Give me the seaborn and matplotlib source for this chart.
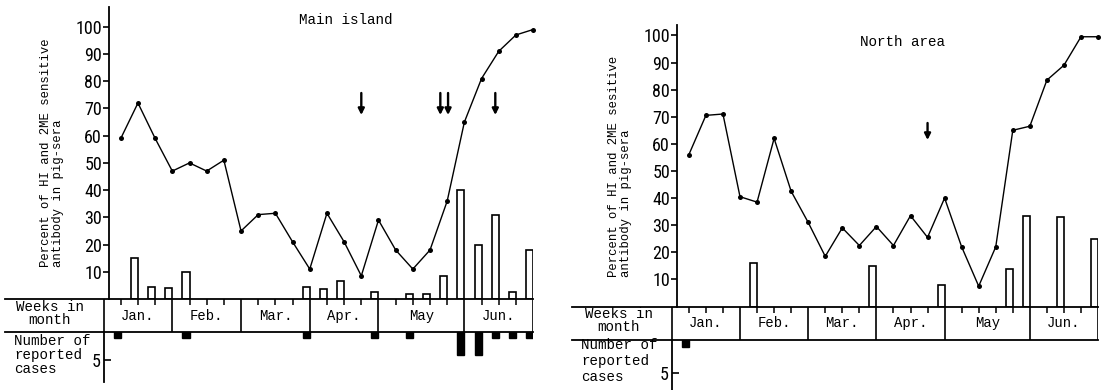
import numpy as np
import matplotlib
matplotlib.use('Agg')
import matplotlib.pyplot as plt
from matplotlib import font_manager
import seaborn as sns

sns.set_theme(style='white')
plt.rcParams['font.family'] = ['Liberation Mono', 'DejaVu Sans']

W, H = 1108, 390

# ---- data ----
month_names = ['Jan.', 'Feb.', 'Mar.', 'Apr.', 'May', 'Jun.']
weeks_per_month = [4, 4, 4, 4, 5, 4]
weeks = list(range(1, 26))
pct_ticks = [10, 20, 30, 40, 50, 60, 70, 80, 90, 100]
case_ticks = [5]

main_pct = [59, 72, 59, 47, 50, 47, 51, 25, 31, 31.5, 21, 11, 31.5, 21, 8.5,
            29, 18, 11, 18, 36, 65, 81, 91, 97, 99]
main_bar_weeks = [2, 3, 4, 5, 12, 13, 14, 16, 18, 19, 20, 21, 22, 23, 24, 25]
main_bar_vals = [15, 4.5, 4, 10, 4.5, 3.5, 6.5, 2.5, 2, 2, 8.5, 40, 20, 31, 2.5, 18]
main_case_weeks = [1, 5, 12, 16, 18, 21, 22, 23, 24, 25]
main_cases = [1, 1, 1, 1, 1, 4, 4, 1, 1, 1]
main_arrows = [15, 19.6, 20.05, 22.8]

north_pct = [56, 70.5, 71, 40.5, 38.5, 62, 42.5, 31, 18.5, 29, 22.5, 29.5, 22.5,
             33.5, 25.5, 40, 22, 7.5, 22, 65, 66.5, 83.5, 89, 99.5, 99.5]
north_bar_weeks = [5, 12, 16, 20, 21, 23, 25]
north_bar_vals = [16, 15, 8, 14, 33.5, 33, 25]
north_case_weeks = [1]
north_cases = [1]
north_arrows = [15]

# narrow digits for the axis numbers, if some condensed face is installed
names = {f.name for f in font_manager.fontManager.ttflist}
tick_font, tick_size, tick_stretch = 'DejaVu Sans', 11.5, 'condensed'
for cand, size in [('Roboto Condensed', 13), ('Liberation Sans Narrow', 13.5),
                   ('Noto Sans Condensed', 13), ('Open Sans Condensed', 13)]:
    if cand in names:
        tick_font, tick_size, tick_stretch = cand, size, 'normal'
        break


def rect(x0, y0, x1, y1):
    # pixel box (y from top) -> figure fraction
    return [x0 / W, 1 - y1 / H, (x1 - x0) / W, (y1 - y0) / H]


def fig_xy(x, y):
    return x / W, 1 - y / H


def style_ticklabels(ax):
    for lab in ax.get_yticklabels():
        lab.set_fontfamily(tick_font)
        lab.set_fontsize(tick_size)
        lab.set_fontstretch(tick_stretch)


def draw_panel(fig, g, title, ylabel, pct, bar_weeks, bar_vals,
               case_weeks, cases, arrows):
    x_end = g['x0'] + 25 * g['wk']

    # upper part: percent of sera
    ax = fig.add_axes(rect(g['spine'], g['top'], x_end, g['zero']))
    ax.set_facecolor('none')
    sns.lineplot(x=weeks, y=pct, ax=ax, color='black', linewidth=1.0,
                 marker='o', markersize=3.6, markeredgecolor='black',
                 markeredgewidth=0, clip_on=False)
    ax.bar(bar_weeks, bar_vals, width=-0.41, align='edge', facecolor='white',
           edgecolor='black', linewidth=1.2, zorder=1)
    ax.set_xlim((g['spine'] - g['x0']) / g['wk'], 25)
    ax.set_ylim(0, (g['zero'] - g['top']) / g['unit'])
    ax.set_xticks([])
    ax.set_yticks(pct_ticks)
    ax.tick_params(axis='y', direction='out', length=4, width=1.2, pad=1,
                   left=True, colors='black')
    style_ticklabels(ax)
    for s in ['top', 'right', 'bottom']:
        ax.spines[s].set_visible(False)
    ax.spines['left'].set_linewidth(1.3)
    ax.spines['left'].set_color('black')
    ax.set_xlabel('')
    ax.set_ylabel('')
    a0 = (g['zero'] - g['arrow'][0]) / g['unit']
    a1 = (g['zero'] - g['arrow'][1]) / g['unit']
    for w in arrows:
        ax.annotate('', xy=(w, a1), xytext=(w, a0),
                    arrowprops=dict(arrowstyle='-|>', color='black', lw=1.7,
                                    mutation_scale=9, shrinkA=0, shrinkB=0))

    # month band
    bx = fig.add_axes(rect(g['line0'], g['zero'], x_end, g['bottom']))
    bx.set_facecolor('none')
    bx.set_xlim(-(g['x0'] - g['line0']) / g['wk'], 25)
    bx.set_ylim(0, 1)
    bx.set_xticks([])
    bx.set_yticks([])
    for s in ['left', 'right']:
        bx.spines[s].set_visible(False)
    for s in ['top', 'bottom']:
        bx.spines[s].set_linewidth(1.3)
        bx.spines[s].set_color('black')
    bounds = np.concatenate([[0], np.cumsum(weeks_per_month)])
    bx.vlines(bounds, 0, 1, color='black', lw=1.2)
    inner = [w for w in range(1, 25) if w not in bounds]
    bx.vlines(inner, 1 - 6 / (g['bottom'] - g['zero']), 1, color='black', lw=1.1)
    centers = (bounds[:-1] + bounds[1:]) / 2
    for c, m in zip(centers, month_names):
        bx.text(c, 0.5, m, ha='center', va='center', fontsize=10,
                color='black')

    # lower part: reported cases
    lx = fig.add_axes(rect(g['x0'], g['bottom'], x_end, g['low']))
    lx.set_facecolor('none')
    lx.bar(case_weeks, cases, width=-0.41, align='edge', color='black',
           edgecolor='black', linewidth=1.0)
    lx.set_xlim(0, 25)
    lx.set_ylim((g['low'] - g['bottom']) / g['case'], 0)
    lx.set_xticks([])
    lx.set_yticks(case_ticks)
    lx.tick_params(axis='y', direction='in', length=5, width=1.2, pad=2,
                   left=True, colors='black')
    style_ticklabels(lx)
    for s in ['top', 'right', 'bottom']:
        lx.spines[s].set_visible(False)
    lx.spines['left'].set_linewidth(1.3)
    lx.spines['left'].set_color('black')

    # texts
    fig.text(*fig_xy(*g['title_xy']), title, ha='center', va='center',
             fontsize=10.3, color='black')
    fig.text(*fig_xy(*g['ylab_xy']), ylabel, rotation=90, ha='center',
             va='bottom', multialignment='left', fontsize=8.8,
             linespacing=0.95, color='black')
    fig.text(*fig_xy(*g['weeks_xy']), 'Weeks in\nmonth', ha='center',
             va='center', multialignment='center', fontsize=10.2,
             linespacing=0.95, color='black')
    fig.text(*fig_xy(*g['cases_xy']), 'Number of\nreported\ncases', ha='left',
             va='center', fontsize=10.2, linespacing=g['cases_ls'],
             color='black')


left_geo = dict(x0=103.6, wk=17.18, spine=108.9, zero=299, unit=2.722,
                top=6.7, bottom=332.3, line0=5.4, case=5.6, low=381.7,
                arrow=(93, 115), title_xy=(345.5, 20), ylab_xy=(52, 267),
                weeks_xy=(50, 313.5), cases_xy=(14, 355), cases_ls=0.98)
right_geo = dict(x0=671.8, wk=17.05, spine=677, zero=306.5, unit=2.711,
                 top=25, bottom=340, line0=572, case=6.5, low=390,
                 arrow=(123, 140), title_xy=(902.5, 42), ylab_xy=(620, 277),
                 weeks_xy=(619, 320.5), cases_xy=(581, 361), cases_ls=1.15)

fig = plt.figure(figsize=(W / 100, H / 100), dpi=100)
fig.patch.set_facecolor('white')

draw_panel(fig, left_geo, 'Main island',
           'Percent of HI and 2ME sensitive\nantibody in pig-sera',
           main_pct, main_bar_weeks, main_bar_vals,
           main_case_weeks, main_cases, main_arrows)
draw_panel(fig, right_geo, 'North area',
           'Percent of HI and 2ME sesitive\nantibody in pig-sera',
           north_pct, north_bar_weeks, north_bar_vals,
           north_case_weeks, north_cases, north_arrows)

fig.savefig('out.png', dpi=100, facecolor='white')
